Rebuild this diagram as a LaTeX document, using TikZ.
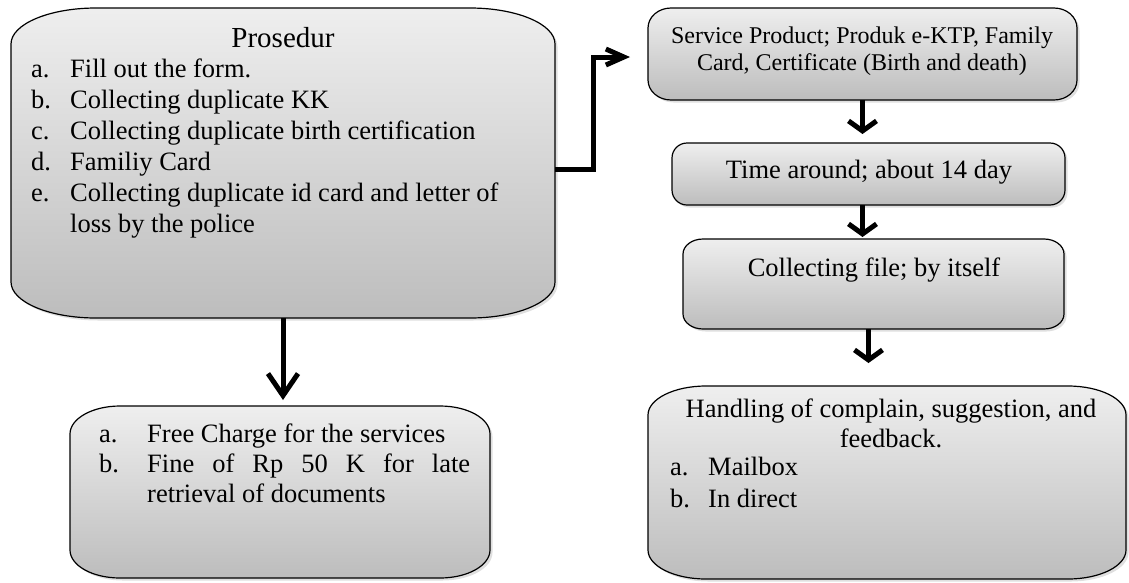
\documentclass[tikz,border=0pt]{standalone}
\usepackage{fontspec}
\setmainfont{Liberation Serif}
\usetikzlibrary{arrows.meta,shadows}

\newcommand{\listlbl}[2]{\makebox[#1][l]{#2}}
% box outline with elliptic corners: node, x radius, y radius
\newcommand{\softbox}[3]{%
  \path[boxfill] ([xshift=#2]#1.north west) -- ([xshift=-#2]#1.north east)
    arc[start angle=90, end angle=0, x radius=#2, y radius=#3]
    -- ([yshift=#3]#1.south east)
    arc[start angle=0, end angle=-90, x radius=#2, y radius=#3]
    -- ([xshift=#2]#1.south west)
    arc[start angle=-90, end angle=-180, x radius=#2, y radius=#3]
    -- ([yshift=-#3]#1.north west)
    arc[start angle=180, end angle=90, x radius=#2, y radius=#3]
    -- cycle;}

\tikzset{
  slot/.style={inner sep=0pt, outer sep=0pt},
  boxfill/.style={draw=black, line width=1.2pt, top color=gray!13, bottom color=gray!52,
    drop shadow={shadow xshift=2.5pt, shadow yshift=-2.5pt, opacity=.25}},
  txt/.style={inner sep=0pt, font=\fontsize{26.5}{31}\selectfont},
  flow/.style={line width=5pt, line join=miter},
  bigtip/.style={-{Straight Barb[length=22pt, width=30pt]}},
  smalltip/.style={-{Straight Barb[length=10pt, width=28pt]}},
  longtip/.style={-{Straight Barb[length=18pt, width=16pt]}}
}

\begin{document}
\begin{tikzpicture}[x=1pt, y=-1pt]
\useasboundingbox (0,0) rectangle (1129,582);

% box places
\node[slot, minimum width=544pt, minimum height=310pt] (proc) at (283,163) {};
\node[slot, minimum width=420pt, minimum height=172pt] (fee)  at (280,492) {};
\node[slot, minimum width=429pt, minimum height=92pt]  (prod) at (862.5,54) {};
\node[slot, minimum width=393pt, minimum height=62pt]  (time) at (868.5,174) {};
\node[slot, minimum width=381pt, minimum height=90pt]  (file) at (873.5,284) {};
\node[slot, minimum width=478pt, minimum height=193pt] (help) at (887,482.5) {};

\softbox{proc}{85pt}{36pt}
\softbox{fee}{50pt}{28pt}
\softbox{prod}{23pt}{20pt}
\softbox{time}{15pt}{15pt}
\softbox{file}{20pt}{15pt}
\softbox{help}{58pt}{29pt}

% texts (base = baseline of the last line)
\node[txt, font=\fontsize{29}{33}\selectfont, anchor=base] (proctitle) at (283,47) {Prosedur};
\node[txt, align=left, anchor=base west] (proclist) at (31,232) {%
  \listlbl{39pt}{a.}Fill out the form.\\
  \listlbl{39pt}{b.}Collecting duplicate KK\\
  \listlbl{39pt}{c.}Collecting duplicate birth certification\\
  \listlbl{39pt}{d.}Familiy Card\\
  \listlbl{39pt}{e.}Collecting duplicate id card and letter of\\
  \hspace*{39pt}loss by the police};
\node[txt, font=\fontsize{24}{27}\selectfont, align=center, anchor=base] (prodtext) at (862,70)
  {Service Product; Produk e-KTP, Family\\Card, Certificate (Birth and death)};
\node[txt, anchor=base] (timetext) at (869,178) {Time around; about 14 day};
\node[txt, anchor=base] (filetext) at (874,276) {Collecting file; by itself};
\node[txt, font=\fontsize{26.5}{30}\selectfont, align=center, anchor=base] (helptitle) at (891,447)
  {Handling of complain, suggestion, and\\feedback.};
\node[txt, font=\fontsize{26.5}{32}\selectfont, align=left, anchor=base west] (helplist) at (670,507) {%
  \listlbl{38pt}{a.}Mailbox\\
  \listlbl{38pt}{b.}In direct};
\node[txt, font=\fontsize{26.5}{30}\selectfont, align=left, anchor=base west] (feelist) at (99,502) {%
  \listlbl{48pt}{a.}Free Charge for the services\\
  \listlbl{48pt}{b.}\makebox[323pt][s]{Fine of Rp 50 K for late}\\
  \hspace*{48pt}retrieval of documents};

% arrows
\coordinate (drop) at ([xshift=-5pt]file.south);
\draw[flow, bigtip, shorten >=6pt] (proc.south) -- (proc.south |- fee.north);
\draw[flow, longtip, shorten >=18pt] ([yshift=-6pt]proc.east) -- ++(38,0) |- ([yshift=-3pt]prod.west);
\draw[flow, smalltip, shorten >=9pt] (prod.south) -- (prod.south |- time.north);
\draw[flow, smalltip, shorten >=2pt] (prod.south |- time.south) -- (prod.south |- file.north);
\draw[flow, smalltip, shorten >=23pt] (drop) -- (drop |- help.north);
\end{tikzpicture}
\end{document}
